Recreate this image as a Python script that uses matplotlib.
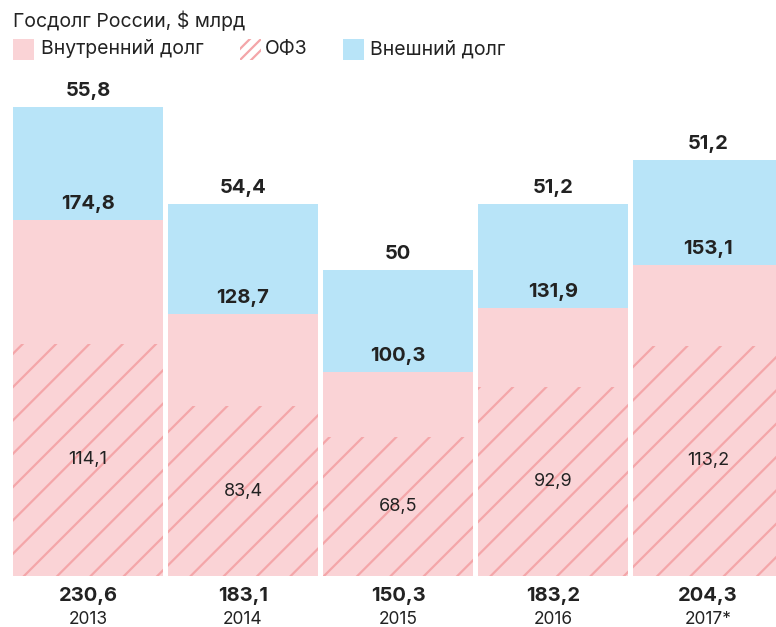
import matplotlib.pyplot as plt
from matplotlib.patches import Rectangle
import matplotlib as mpl

years = ["2013", "2014", "2015", "2016", "2017*"]
total = ["230,6", "183,1", "150,3", "183,2", "204,3"]
internal = [174.8, 128.7, 100.3, 131.9, 153.1]
ofz = [114.1, 83.4, 68.5, 92.9, 113.2]
external = [55.8, 54.4, 50.0, 51.2, 51.2]
external_lbl = ["55,8", "54,4", "50", "51,2", "51,2"]
internal_lbl = ["174,8", "128,7", "100,3", "131,9", "153,1"]
ofz_lbl = ["114,1", "83,4", "68,5", "92,9", "113,2"]

pink = "#fad3d6"
hatch_col = "#f4a6a9"
blue = "#b8e4f8"
txt = "#222222"

mpl.rcParams['font.family'] = ['Inter', 'DejaVu Sans']
mpl.rcParams['hatch.color'] = hatch_col
mpl.rcParams['hatch.linewidth'] = 1.6

W, H = 776, 627
fig = plt.figure(figsize=(W / 100, H / 100), dpi=100)

px_unit = 155.0
y_scale = 2.034  # px per $bn
bottom_px = 576
ax = fig.add_axes([0, (H - bottom_px) / H, 1, bottom_px / H])
ax.set_xlim(-88 / px_unit, (W - 88) / px_unit)
ax.set_ylim(0, bottom_px / y_scale)
ax.axis('off')

bw = 150 / px_unit
xs = list(range(len(years)))

ax.bar(xs, internal, width=bw, color=pink, linewidth=0)
ax.bar(xs, ofz, width=bw, color=pink, hatch='/', edgecolor=hatch_col, linewidth=0)
ax.bar(xs, external, width=bw, bottom=internal, color=blue, linewidth=0)

off = 16 / y_scale
bold_fs = 14.5
for i in xs:
    top = internal[i] + external[i]
    ax.text(i, top + off, external_lbl[i], ha='center', va='center',
            fontsize=bold_fs, fontweight='bold', color=txt)
    ax.text(i, internal[i] + off, internal_lbl[i], ha='center', va='center',
            fontsize=bold_fs, fontweight='bold', color=txt)
    ax.text(i, ofz[i] / 2, ofz_lbl[i], ha='center', va='center',
            fontsize=13, color=txt)
    ax.text(i, -20 / y_scale, total[i], ha='center', va='center',
            fontsize=bold_fs, fontweight='bold', color=txt, clip_on=False)
    ax.text(i, -44 / y_scale, years[i], ha='center', va='center',
            fontsize=12.5, color=txt, clip_on=False)

# title and legend
fig.text(13 / W, 1 - 21 / H, "Госдолг России, $ млрд", ha='left', va='center',
         fontsize=14, color=txt)

ly = 49
sq = 21
fig.add_artist(Rectangle((13 / W, 1 - (ly + sq / 2) / H), sq / W, sq / H,
                         transform=fig.transFigure, facecolor=pink, linewidth=0))
fig.text(41 / W, 1 - ly / H, "Внутренний долг", ha='left', va='center',
         fontsize=14, color=txt)
fig.add_artist(Rectangle((240 / W, 1 - (ly + sq / 2) / H), sq / W, sq / H,
                         transform=fig.transFigure, facecolor='none', hatch='///',
                         edgecolor=hatch_col, linewidth=0))
fig.text(265 / W, 1 - ly / H, "ОФЗ", ha='left', va='center',
         fontsize=14, color=txt)
fig.add_artist(Rectangle((343 / W, 1 - (ly + sq / 2) / H), sq / W, sq / H,
                         transform=fig.transFigure, facecolor=blue, linewidth=0))
fig.text(370 / W, 1 - ly / H, "Внешний долг", ha='left', va='center',
         fontsize=14, color=txt)

fig.savefig("out.png", dpi=100)
